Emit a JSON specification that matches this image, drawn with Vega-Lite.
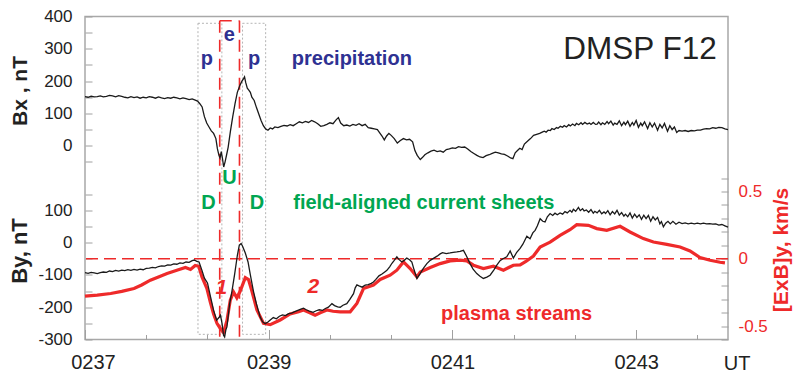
{
  "$schema": "https://vega.github.io/schema/vega-lite/v6.json",
  "width": 643,
  "height": 323,
  "autosize": "none",
  "padding": {"left": 85, "top": 16.5, "right": 66, "bottom": 37.5},
  "config": {
    "view": {"stroke": "#a8a8a8", "strokeWidth": 1.5},
    "font": "Liberation Sans",
    "axis": {"labelFont": "Liberation Sans", "titleFont": "Liberation Sans", "grid": false, "domain": false, "tickColor": "#a0a0a0", "tickWidth": 1, "labelColor": "#222", "titleColor": "#222", "titleFontWeight": "bold", "titleFontSize": 21, "labelFontSize": 17, "labelOverlap": false, "labelFlush": false}
  },
  "datasets": {
    "bx": [
      {"t":0,"bx":152},{"t":2,"bx":150},{"t":4,"bx":153},{"t":6,"bx":151},{"t":8,"bx":152},{"t":10,"bx":154},{"t":12,"bx":151},{"t":14,"bx":153},{"t":16,"bx":156},{"t":18,"bx":154},{"t":20,"bx":151},{"t":22,"bx":155},{"t":24,"bx":153},{"t":26,"bx":150},{"t":28,"bx":148},{"t":30,"bx":152},{"t":32,"bx":149},{"t":34,"bx":151},{"t":36,"bx":147},{"t":38,"bx":150},{"t":40,"bx":148},{"t":42,"bx":152},{"t":44,"bx":150},{"t":46,"bx":147},{"t":48,"bx":151},{"t":50,"bx":148},{"t":52,"bx":146},{"t":54,"bx":149},{"t":56,"bx":147},{"t":58,"bx":150},{"t":60,"bx":148},{"t":62,"bx":145},{"t":64,"bx":148},{"t":66,"bx":146},{"t":68,"bx":143},{"t":70,"bx":145},{"t":72,"bx":141},{"t":73.5,"bx":138},
      {"t":75,"bx":130},{"t":76.5,"bx":120},{"t":78,"bx":90},{"t":79.5,"bx":70},{"t":81,"bx":58},{"t":82.5,"bx":46},{"t":84,"bx":38},{"t":85.5,"bx":22},{"t":86.5,"bx":-10},{"t":87.5,"bx":-30},{"t":88.2,"bx":-38},{"t":89,"bx":-18},{"t":89.8,"bx":-40},{"t":90.6,"bx":-66},{"t":91.5,"bx":-50},{"t":92.5,"bx":-28},{"t":93.5,"bx":-5},{"t":95,"bx":45},{"t":96.5,"bx":90},{"t":98,"bx":130},{"t":99.5,"bx":165},{"t":101,"bx":185},{"t":102.5,"bx":200},{"t":103.5,"bx":207},{"t":104.2,"bx":213},{"t":105,"bx":195},{"t":106,"bx":178},{"t":107,"bx":172},{"t":108,"bx":165},{"t":109,"bx":150},{"t":110.5,"bx":140},{"t":112,"bx":118},{"t":113.5,"bx":98},{"t":115,"bx":78},{"t":116.5,"bx":62},{"t":118,"bx":52},{"t":119.5,"bx":48},
      {"t":121,"bx":55},{"t":122.5,"bx":52},{"t":124,"bx":58},{"t":126,"bx":56},{"t":128,"bx":60},{"t":130,"bx":63},{"t":132,"bx":61},{"t":134,"bx":65},{"t":136,"bx":62},{"t":138,"bx":68},{"t":140,"bx":74},{"t":142,"bx":71},{"t":144,"bx":75},{"t":146,"bx":72},{"t":148,"bx":78},{"t":150,"bx":74},{"t":152,"bx":68},{"t":154,"bx":60},{"t":156,"bx":62},{"t":158,"bx":66},{"t":160,"bx":71},{"t":162,"bx":68},{"t":164,"bx":80},{"t":165.5,"bx":87},{"t":167,"bx":70},{"t":169,"bx":62},{"t":171,"bx":64},{"t":173,"bx":61},{"t":175,"bx":66},{"t":177,"bx":63},{"t":179,"bx":68},{"t":181,"bx":62},{"t":183,"bx":66},{"t":185,"bx":56},{"t":187,"bx":54},{"t":189,"bx":52},{"t":191,"bx":50},{"t":192.5,"bx":40},{"t":194,"bx":30},{"t":195.5,"bx":18},{"t":197,"bx":30},{"t":198.5,"bx":38},{"t":200,"bx":32},{"t":202,"bx":22},{"t":204,"bx":8},{"t":206,"bx":16},{"t":208,"bx":22},{"t":210,"bx":18},{"t":212,"bx":20},{"t":214,"bx":12},{"t":215.5,"bx":-15},{"t":217,"bx":-30},{"t":219,"bx":-43},{"t":220.5,"bx":-36},{"t":222,"bx":-28},{"t":224,"bx":-22},{"t":226,"bx":-17},{"t":228,"bx":-14},{"t":230,"bx":-18},{"t":232,"bx":-16},{"t":234,"bx":-20},{"t":236,"bx":-12},{"t":238,"bx":-10},{"t":240,"bx":-7},{"t":242,"bx":-8},{"t":244,"bx":-3},{"t":246,"bx":-5},{"t":248,"bx":-4},{"t":250,"bx":-10},{"t":252,"bx":-18},{"t":254,"bx":-24},{"t":256,"bx":-30},{"t":258,"bx":-35},{"t":260,"bx":-37},{"t":262,"bx":-31},{"t":264,"bx":-28},{"t":266,"bx":-24},{"t":268,"bx":-20},{"t":270,"bx":-22},{"t":272,"bx":-25},{"t":274,"bx":-27},{"t":276,"bx":-32},{"t":278,"bx":-38},{"t":279.5,"bx":-40},{"t":281,"bx":-22},{"t":282.5,"bx":-15},{"t":284,"bx":-8},{"t":285.5,"bx":-12},{"t":287,"bx":5},{"t":289,"bx":14},{"t":291,"bx":22},{"t":293,"bx":32},{"t":295,"bx":35},{"t":297,"bx":38},{"t":299,"bx":43},
      {"t":300,"bx":45},{"t":301.2,"bx":42},{"t":302.5,"bx":48},{"t":304,"bx":47},{"t":305,"bx":53},{"t":306.5,"bx":50},{"t":308,"bx":56},{"t":309,"bx":54},{"t":310.5,"bx":60},{"t":312,"bx":57},{"t":313,"bx":62},{"t":314.5,"bx":58},{"t":316,"bx":65},{"t":317,"bx":61},{"t":318.5,"bx":67},{"t":320,"bx":62},{"t":321,"bx":69},{"t":322.5,"bx":65},{"t":324,"bx":71},{"t":325,"bx":66},{"t":326.5,"bx":72},{"t":328,"bx":67},{"t":329.5,"bx":70},{"t":330.5,"bx":66},{"t":332,"bx":72},{"t":333.5,"bx":66},
      {"t":334.5,"bx":67},{"t":335.5,"bx":73},{"t":337,"bx":65},{"t":338,"bx":71},{"t":339.5,"bx":66},{"t":341,"bx":75},{"t":342,"bx":68},{"t":343.5,"bx":76},{"t":345,"bx":64},{"t":346,"bx":70},{"t":347.5,"bx":66},{"t":349,"bx":77},{"t":350.5,"bx":62},{"t":352,"bx":73},{"t":353,"bx":65},{"t":354.5,"bx":76},{"t":356,"bx":60},{"t":357.5,"bx":72},{"t":358.5,"bx":64},{"t":360,"bx":78},{"t":361.5,"bx":57},{"t":363,"bx":70},{"t":364,"bx":62},{"t":365.5,"bx":74},{"t":367.5,"bx":53},{"t":369,"bx":71},{"t":370.5,"bx":58},{"t":372,"bx":70},{"t":374,"bx":48},{"t":375.5,"bx":66},{"t":377,"bx":55},{"t":378.5,"bx":69},{"t":380.5,"bx":45},{"t":382,"bx":62},{"t":383.5,"bx":50},{"t":385,"bx":58},{"t":386.5,"bx":41},{"t":388,"bx":47},{"t":390,"bx":45},{"t":392,"bx":47},{"t":394,"bx":44},{"t":396,"bx":47},{"t":398,"bx":46},{"t":400,"bx":48},{"t":402,"bx":48},{"t":404,"bx":51},{"t":406,"bx":53},{"t":408,"bx":52},{"t":410,"bx":56},{"t":412,"bx":54},{"t":414,"bx":57},{"t":416,"bx":56},{"t":418,"bx":52},{"t":420,"bx":50}
    ],
    "by": [
      {"t":0,"by":-93},{"t":2,"by":-95},{"t":4,"by":-92},{"t":6,"by":-94},{"t":8,"by":-96},{"t":10,"by":-93},{"t":12,"by":-91},{"t":14,"by":-92},{"t":16,"by":-88},{"t":18,"by":-90},{"t":20,"by":-86},{"t":22,"by":-88},{"t":24,"by":-85},{"t":26,"by":-87},{"t":28,"by":-84},{"t":30,"by":-86},{"t":32,"by":-83},{"t":34,"by":-85},{"t":36,"by":-82},{"t":38,"by":-84},{"t":40,"by":-80},{"t":42,"by":-79},{"t":44,"by":-77},{"t":46,"by":-78},{"t":48,"by":-74},{"t":50,"by":-72},{"t":52,"by":-73},{"t":54,"by":-69},{"t":56,"by":-70},{"t":58,"by":-66},{"t":60,"by":-67},{"t":62,"by":-63},{"t":64,"by":-64},{"t":66,"by":-60},{"t":68,"by":-61},{"t":70,"by":-56},{"t":71.5,"by":-54},{"t":73,"by":-58},{"t":74.5,"by":-60},
      {"t":76.4,"by":-86},{"t":78,"by":-110},{"t":80,"by":-125},{"t":82,"by":-168},{"t":84,"by":-210},{"t":86,"by":-240},{"t":87.5,"by":-232},{"t":88.5,"by":-225},{"t":89.5,"by":-250},{"t":90.5,"by":-287},{"t":91.2,"by":-292},{"t":92,"by":-270},{"t":92.7,"by":-261},{"t":94.5,"by":-189},{"t":96,"by":-150},{"t":97.8,"by":-96},{"t":99.5,"by":-40},{"t":100.8,"by":-8},{"t":102,"by":-3},{"t":103,"by":-12},{"t":104.7,"by":-32},{"t":106.5,"by":-60},{"t":108,"by":-100},{"t":110,"by":-150},{"t":112,"by":-190},{"t":114.4,"by":-230},{"t":116,"by":-245},{"t":117.7,"by":-251},{"t":119.5,"by":-246},{"t":121,"by":-240},{"t":123,"by":-232},{"t":125,"by":-236},{"t":127,"by":-228},{"t":129,"by":-224},{"t":131,"by":-226},{"t":133,"by":-220},{"t":135,"by":-218},{"t":137,"by":-214},{"t":139,"by":-210},{"t":141,"by":-206},{"t":142.7,"by":-203},{"t":144.5,"by":-208},{"t":146.5,"by":-212},{"t":149,"by":-216},{"t":151,"by":-211},{"t":153,"by":-208},{"t":155,"by":-210},{"t":157,"by":-204},{"t":159,"by":-200},{"t":161.3,"by":-189},{"t":163,"by":-195},{"t":165,"by":-199},{"t":166.7,"by":-200},{"t":168.5,"by":-194},{"t":171,"by":-189},{"t":173,"by":-176},{"t":175.4,"by":-158},{"t":176.5,"by":-140},{"t":177.6,"by":-131},{"t":179,"by":-134},{"t":181,"by":-138},{"t":183,"by":-132},{"t":185,"by":-130},{"t":187,"by":-126},{"t":188.4,"by":-122},{"t":190,"by":-114},{"t":192,"by":-103},{"t":194,"by":-97},{"t":196,"by":-90},{"t":197.2,"by":-86},{"t":199,"by":-75},{"t":200.5,"by":-64},{"t":202,"by":-55},{"t":203.7,"by":-44},{"t":205,"by":-52},{"t":207,"by":-60},{"t":208.5,"by":-55},{"t":210.2,"by":-48},{"t":212,"by":-53},{"t":213.5,"by":-60},{"t":215,"by":-85},{"t":216.8,"by":-111},{"t":218.9,"by":-96},{"t":221,"by":-80},{"t":223.3,"by":-65},{"t":225.5,"by":-55},{"t":227.6,"by":-49},{"t":230,"by":-42},{"t":232,"by":-35},{"t":233.5,"by":-31},{"t":236,"by":-34},{"t":238.5,"by":-32},{"t":240.5,"by":-30},{"t":242.9,"by":-29},{"t":245,"by":-27},{"t":247.2,"by":-24},{"t":249,"by":-40},{"t":251.5,"by":-65},{"t":253.5,"by":-82},{"t":255.9,"by":-96},{"t":258,"by":-104},{"t":260.2,"by":-111},{"t":262.5,"by":-107},{"t":264.6,"by":-101},{"t":267,"by":-85},{"t":269,"by":-70},{"t":271.1,"by":-56},{"t":273,"by":-50},{"t":275.5,"by":-44},{"t":277.7,"by":-26},{"t":279.8,"by":-48},{"t":282,"by":-30},{"t":284.2,"by":-18},{"t":286,"by":-5},{"t":288.6,"by":20},{"t":290.7,"by":12},{"t":292.5,"by":30},{"t":294,"by":38},{"t":295.5,"by":52},{"t":297.3,"by":74},{"t":299,"by":66},{"t":300.5,"by":64},{"t":302,"by":80},{"t":303.8,"by":90},{"t":305.5,"by":84},{"t":307,"by":91},{"t":308.5,"by":86},{"t":310.3,"by":92},{"t":312,"by":88},{"t":313.5,"by":96},{"t":315,"by":92},{"t":316.8,"by":100},
      {"t":318,"by":94},{"t":319,"by":103},{"t":320.5,"by":97},{"t":322.3,"by":109},{"t":323.5,"by":99},{"t":325,"by":105},{"t":326,"by":98},{"t":327.5,"by":101},{"t":329,"by":94},{"t":330.5,"by":102},{"t":332,"by":91},{"t":333,"by":97},{"t":334.5,"by":92},{"t":336,"by":100},{"t":337.5,"by":89},{"t":339,"by":95},{"t":340,"by":90},{"t":341.5,"by":99},{"t":343,"by":86},{"t":344.5,"by":96},{"t":346,"by":89},{"t":347.5,"by":100},{"t":349,"by":85},{"t":350.5,"by":93},{"t":352,"by":82},{"t":353,"by":88},{"t":354.5,"by":80},{"t":356,"by":92},{"t":357.5,"by":76},{"t":359,"by":88},{"t":360.5,"by":78},{"t":362,"by":86},{"t":363.5,"by":72},{"t":365,"by":85},{"t":366.5,"by":74},{"t":368,"by":84},{"t":369.5,"by":66},{"t":371,"by":80},{"t":372.5,"by":70},{"t":374,"by":78},{"t":375.5,"by":58},{"t":376.5,"by":65},{"t":377.8,"by":49},{"t":379.3,"by":60},{"t":380.8,"by":66},{"t":382.3,"by":58},{"t":384,"by":66},{"t":386,"by":57},{"t":388,"by":63},{"t":390,"by":59},{"t":392,"by":61},{"t":394,"by":58},{"t":396,"by":60},{"t":398,"by":58},{"t":400,"by":60},{"t":402,"by":58},{"t":404,"by":60},{"t":406,"by":58},{"t":408,"by":59},{"t":410,"by":57},{"t":412,"by":58},{"t":414,"by":54},{"t":416,"by":56},{"t":418,"by":52},{"t":420,"by":48}
    ],
    "exb": [
      {"t":0,"e":-0.278},{"t":8,"e":-0.27},{"t":16.8,"e":-0.258},{"t":24,"e":-0.242},{"t":32,"e":-0.221},{"t":37,"e":-0.195},{"t":42.7,"e":-0.159},{"t":48,"e":-0.135},{"t":53.6,"e":-0.11},{"t":60,"e":-0.085},{"t":65.6,"e":-0.065},{"t":68.9,"e":-0.08},{"t":72,"e":-0.05},{"t":74.3,"e":-0.056},{"t":76.4,"e":-0.135},{"t":79.6,"e":-0.22},{"t":81.8,"e":-0.32},{"t":84,"e":-0.41},{"t":86.2,"e":-0.48},{"t":88.5,"e":-0.52},{"t":90.5,"e":-0.548},{"t":92.7,"e":-0.46},{"t":94.9,"e":-0.307},{"t":97,"e":-0.246},{"t":99.2,"e":-0.29},{"t":101.4,"e":-0.24},{"t":104.7,"e":-0.14},{"t":106.8,"e":-0.155},{"t":109,"e":-0.24},{"t":112.3,"e":-0.38},{"t":116.6,"e":-0.48},{"t":121,"e":-0.49},{"t":127.5,"e":-0.455},{"t":134,"e":-0.41},{"t":139.5,"e":-0.394},{"t":142.7,"e":-0.381},{"t":146.5,"e":-0.4},{"t":150.3,"e":-0.419},{"t":154,"e":-0.4},{"t":158,"e":-0.381},{"t":162,"e":-0.39},{"t":166.7,"e":-0.394},{"t":173.2,"e":-0.394},{"t":177.6,"e":-0.332},{"t":181.9,"e":-0.221},{"t":188.4,"e":-0.196},{"t":192.8,"e":-0.154},{"t":199.3,"e":-0.122},{"t":203.7,"e":-0.085},{"t":208,"e":-0.024},{"t":212.4,"e":-0.073},{"t":216.8,"e":-0.135},{"t":219,"e":-0.098},{"t":225.5,"e":-0.065},{"t":232,"e":-0.036},{"t":238.5,"e":-0.016},{"t":245,"e":-0.011},{"t":249.4,"e":-0.016},{"t":253.7,"e":-0.048},{"t":260.2,"e":-0.073},{"t":266.8,"e":-0.056},{"t":273.3,"e":-0.085},{"t":279.8,"e":-0.048},{"t":284.2,"e":-0.045},{"t":288,"e":-0.02},{"t":292.9,"e":0.02},{"t":297.3,"e":0.087},{"t":303.8,"e":0.124},{"t":310.3,"e":0.174},{"t":316.8,"e":0.216},{"t":321.2,"e":0.253},{"t":328.8,"e":0.248},{"t":334.3,"e":0.224},{"t":340.8,"e":0.211},{"t":349.5,"e":0.241},{"t":356,"e":0.199},{"t":364.7,"e":0.15},{"t":371.3,"e":0.124},{"t":380,"e":0.107},{"t":388.7,"e":0.087},{"t":395.2,"e":0.058},{"t":401.7,"e":0.009},{"t":408.3,"e":-0.011},{"t":414.8,"e":-0.026},{"t":418,"e":-0.031}
    ],
    "zero": [{"e":0}],
    "boxes": [
      {"t1":73.8,"t2":89.4,"v1":379,"v2":-584},
      {"t1":102.9,"t2":118,"v1":379,"v2":-584}
    ],
    "edges": [
      {"t1":88,"t2":88,"v1":387,"v2":-600},
      {"t1":100.9,"t2":100.9,"v1":387,"v2":-600},
      {"t1":88,"t2":100.9,"v1":387,"v2":387}
    ],
    "notes": [
      {"label":"precipitation","t":174.3,"v":269,"kind":"particles"},
      {"label":"p","t":79.6,"v":268,"kind":"particles"},
      {"label":"p","t":110.5,"v":268,"kind":"particles"},
      {"label":"e","t":94.2,"v":342,"kind":"particles"},
      {"label":"U","t":94.4,"v":-100,"kind":"currents"},
      {"label":"D","t":80.7,"v":-177,"kind":"currents"},
      {"label":"D","t":112.3,"v":-177,"kind":"currents"},
      {"label":"field-aligned current sheets","t":221.3,"v":-177,"kind":"currents"},
      {"label":"plasma streams","t":281.9,"v":-522,"kind":"plasma"}
    ],
    "title": [{"label":"DMSP  F12","t":362.5,"v":296}],
    "unit": [{"label":"UT","t":425.9,"v":-676}],
    "nums": [
      {"label":"1","t":89,"v":-441},
      {"label":"2","t":149.2,"v":-437}
    ]
  },
  "layer": [
    {
      "data": {"name": "boxes"},
      "mark": {"type": "rect", "fill": null, "fillOpacity": 0, "stroke": "#b4b4b4", "strokeWidth": 1, "strokeDash": [2, 2]},
      "encoding": {
        "x": {"field": "t1", "type": "quantitative", "scale": {"domain": [0, 420], "nice": false, "zero": false}},
        "x2": {"field": "t2"},
        "y": {"field": "v1", "type": "quantitative", "scale": {"domain": [-600, 400], "nice": false, "zero": false}, "axis": null},
        "y2": {"field": "v2"}
      }
    },
    {
      "data": {"name": "edges"},
      "mark": {"type": "rule", "color": "#ee2a2a", "strokeWidth": 1.6, "strokeDash": [12, 7]},
      "encoding": {
        "x": {"field": "t1", "type": "quantitative"},
        "x2": {"field": "t2"},
        "y": {"field": "v1", "type": "quantitative", "scale": {"domain": [-600, 400], "nice": false, "zero": false}, "axis": null},
        "y2": {"field": "v2"}
      }
    },
    {
      "data": {"name": "zero"},
      "mark": {"type": "rule", "color": "#ee2a2a", "strokeWidth": 1.6, "strokeDash": [12, 6]},
      "encoding": {
        "y": {"field": "e", "type": "quantitative", "scale": {"domain": [-0.6, 1.8], "nice": false, "zero": false}, "axis": null}
      }
    },
    {
      "data": {"name": "bx"},
      "mark": {"type": "line", "color": "#1a1a1a", "strokeWidth": 1.3},
      "encoding": {
        "x": {
          "field": "t", "type": "quantitative",
          "scale": {"domain": [0, 420], "nice": false, "zero": false},
          "axis": {
            "title": null,
            "values": [0,10,20,30,40,50,60,70,80,90,100,110,120,130,140,150,160,170,180,190,200,210,220,230,240,250,260,270,280,290,300,310,320,330,340,350,360,370,380,390,400,410,420],
            "tickSize": {"condition": {"test": "datum.value % 60 === 0", "value": -10}, "value": -5},
            "labelExpr": "datum.value % 120 === 0 && datum.value < 400 ? '02' + (37 + datum.value / 60) : ''",
            "labelPadding": 23,
            "labelFontSize": 20,
            "labelOffset": {"condition": {"test": "datum.value === 0", "value": 8}, "value": 0}
          }
        },
        "y": {
          "field": "bx", "type": "quantitative",
          "scale": {"domain": [-600, 400], "nice": false, "zero": false},
          "axis": {
            "orient": "left",
            "values": [-50,0,50,100,150,200,250,300,350,400],
            "labelExpr": "datum.value % 100 === 0 ? '' + datum.value : ''",
            "tickSize": -7,
            "labelPadding": 20,
            "title": "Bx , nT",
            "titleX": -65,
            "titleY": 74,
            "titleAngle": 270,
            "titleBaseline": "middle",
            "titleAlign": "center"
          }
        }
      }
    },
    {
      "data": {"name": "exb"},
      "mark": {"type": "line", "color": "#ee2a2a", "strokeWidth": 3.2},
      "encoding": {
        "x": {"field": "t", "type": "quantitative"},
        "y": {
          "field": "e", "type": "quantitative",
          "scale": {"domain": [-0.6, 1.8], "nice": false, "zero": false},
          "axis": {
            "orient": "right",
            "values": [-0.6,-0.5,-0.4,-0.3,-0.2,-0.1,0,0.1,0.2,0.3,0.4,0.5,0.6],
            "labelExpr": "datum.value === 0.5 ? '0.5' : (datum.value === 0 ? '0' : (datum.value === -0.5 ? '-0.5' : ''))",
            "tickSize": -7,
            "labelPadding": 17,
            "labelColor": "#ee2a2a",
            "title": "[ExB]y, km/s",
            "titleColor": "#ee2a2a",
            "titleX": 53,
            "titleY": 233,
            "titleAngle": 270,
            "titleBaseline": "middle",
            "titleAlign": "center"
          }
        }
      }
    },
    {
      "data": {"name": "by"},
      "mark": {"type": "line", "color": "#1a1a1a", "strokeWidth": 1.3},
      "encoding": {
        "x": {"field": "t", "type": "quantitative"},
        "y": {
          "field": "by", "type": "quantitative",
          "scale": {"domain": [-300, 700], "nice": false, "zero": false},
          "axis": {
            "orient": "left",
            "values": [-300,-250,-200,-150,-100,-50,0,50,100,150],
            "labelExpr": "datum.value % 100 === 0 && datum.value <= 100 ? '' + datum.value : ''",
            "tickSize": -7,
            "labelPadding": 20,
            "title": "By, nT",
            "titleFontSize": 22,
            "titleX": -66,
            "titleY": 234,
            "titleAngle": 270,
            "titleBaseline": "middle",
            "titleAlign": "center"
          }
        }
      }
    },
    {
      "data": {"name": "notes"},
      "mark": {"type": "text", "font": "Liberation Sans", "fontWeight": "bold", "fontSize": 20, "align": "center", "baseline": "middle"},
      "encoding": {
        "x": {"field": "t", "type": "quantitative"},
        "y": {"field": "v", "type": "quantitative", "scale": {"domain": [-600, 400], "nice": false, "zero": false}, "axis": null},
        "text": {"field": "label"},
        "color": {"field": "kind", "type": "nominal", "scale": {"domain": ["particles", "currents", "plasma"], "range": ["#2e3192", "#00a651", "#ee2a2a"]}, "legend": null}
      }
    },
    {
      "data": {"name": "title"},
      "mark": {"type": "text", "font": "Liberation Sans", "fontSize": 31.5, "align": "center", "baseline": "middle", "color": "#222"},
      "encoding": {
        "x": {"field": "t", "type": "quantitative"},
        "y": {"field": "v", "type": "quantitative", "scale": {"domain": [-600, 400], "nice": false, "zero": false}, "axis": null},
        "text": {"field": "label"}
      }
    },
    {
      "data": {"name": "unit"},
      "mark": {"type": "text", "font": "Liberation Sans", "fontSize": 20, "align": "center", "baseline": "middle", "color": "#222"},
      "encoding": {
        "x": {"field": "t", "type": "quantitative"},
        "y": {"field": "v", "type": "quantitative", "scale": {"domain": [-600, 400], "nice": false, "zero": false}, "axis": null},
        "text": {"field": "label"}
      }
    },
    {
      "data": {"name": "nums"},
      "mark": {"type": "text", "font": "Liberation Sans", "fontSize": 21, "fontWeight": "bold", "fontStyle": "italic", "align": "center", "baseline": "middle", "color": "#ee2a2a"},
      "encoding": {
        "x": {"field": "t", "type": "quantitative"},
        "y": {"field": "v", "type": "quantitative", "scale": {"domain": [-600, 400], "nice": false, "zero": false}, "axis": null},
        "text": {"field": "label"}
      }
    }
  ],
  "resolve": {"scale": {"y": "independent"}, "axis": {"y": "independent"}}
}
